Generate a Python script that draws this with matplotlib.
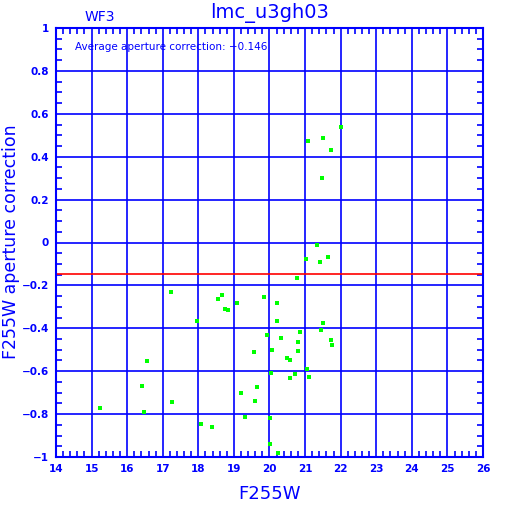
import matplotlib
matplotlib.use("Agg")
import matplotlib.pyplot as plt
from matplotlib.ticker import MultipleLocator

# F255W magnitude vs aperture correction
mag = [
    15.25, 16.41, 16.46, 16.55, 17.23, 17.26, 17.95, 18.07, 18.38, 18.56,
    18.67, 18.75, 18.82, 19.10, 19.21, 19.31, 19.56, 19.59, 19.64, 19.85,
    19.92, 20.01, 20.02, 20.03, 20.06, 20.20, 20.20, 20.23, 20.31, 20.48,
    20.58, 20.58, 20.72, 20.76, 20.80, 20.81, 20.86, 21.03, 21.04, 21.07,
    21.10, 21.34, 21.42, 21.44, 21.48, 21.50, 21.50, 21.64, 21.72, 21.72,
    21.76, 22.00,
]
apcorr = [
    -0.770, -0.667, -0.789, -0.554, -0.231, -0.744, -0.365, -0.846, -0.859, -0.262,
    -0.243, -0.309, -0.315, -0.281, -0.700, -0.812, -0.509, -0.739, -0.674, -0.253,
    -0.431, -0.939, -0.817, -0.607, -0.503, -0.281, -0.368, -0.981, -0.445, -0.539,
    -0.548, -0.632, -0.613, -0.164, -0.462, -0.504, -0.416, -0.076, -0.588, 0.475,
    -0.627, -0.010, -0.092, -0.408, 0.299, 0.489, -0.374, -0.069, 0.433, -0.455,
    -0.478, 0.540,
]
avg_corr = -0.146

xticks = list(range(14, 27))
yticks = [1, 0.8, 0.6, 0.4, 0.2, 0, -0.2, -0.4, -0.6, -0.8, -1]
ylabels = ["1", "0.8", "0.6", "0.4", "0.2", "0", "\u22120.2", "\u22120.4",
           "\u22120.6", "\u22120.8", "\u22121"]

blue = "#0000ff"

fig = plt.figure(figsize=(5.12, 5.12), dpi=100)
ax = fig.add_axes([56 / 512, 1 - 457 / 512, 427 / 512, 429 / 512])

ax.set_xlim(14, 26)
ax.set_ylim(-1, 1)
ax.grid(True, color=blue, linewidth=1.2)
ax.set_axisbelow(True)

ax.axhline(avg_corr, color="red", linewidth=1.2, zorder=2)
ax.plot(mag, apcorr, "s", color="#00ff00", markersize=2.2,
        markeredgewidth=0, zorder=3)

ax.set_xticks(xticks)
ax.set_xticklabels([str(t) for t in xticks])
ax.set_yticks(yticks)
ax.set_yticklabels(ylabels)
ax.xaxis.set_minor_locator(MultipleLocator(0.2))
ax.yaxis.set_minor_locator(MultipleLocator(0.05))
ax.tick_params(which="both", direction="in", colors=blue, top=True, right=True)
ax.tick_params(which="major", length=0, pad=5, labelsize=7.5)
ax.tick_params(which="minor", length=4, width=1.2)
for lbl in ax.get_xticklabels() + ax.get_yticklabels():
    lbl.set_fontweight("bold")
for s in ax.spines.values():
    s.set_color(blue)
    s.set_linewidth(1.5)

ax.set_xlabel("F255W", color=blue, fontsize=13, labelpad=8)
fig.text(11 / 512, 1 - 242 / 512, "F255W aperture correction", color=blue,
         fontsize=12.5, rotation=90, ha="center", va="center")

fig.text(270 / 512, 1 - 13 / 512, "lmc_u3gh03", color=blue, fontsize=14,
         ha="center", va="center")
fig.text(100 / 512, 1 - 17 / 512, "WF3", color=blue, fontsize=10,
         ha="center", va="center")
ax.text(0.045, 0.955, "Average aperture correction: \u22120.146", color=blue,
        fontsize=7.5, transform=ax.transAxes, ha="left", va="center")

fig.savefig("out.png", dpi=100)
